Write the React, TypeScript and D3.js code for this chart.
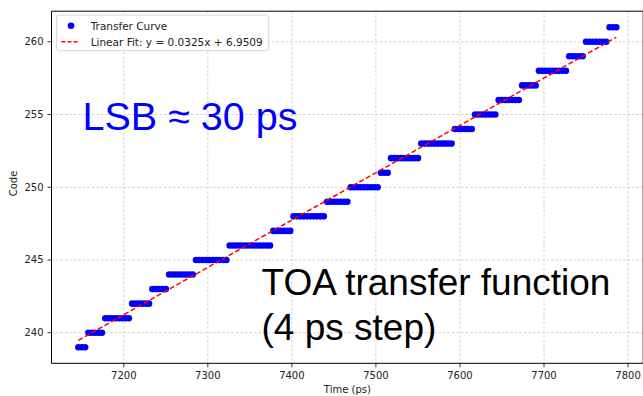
import React from "react";
import * as d3 from "d3";

// Codes and the first/last time (ps) at which each code is output (4 ps sampling step)
const codes = [239, 240, 241, 242, 243, 244, 245, 246, 247, 248, 249, 250, 251, 252, 253, 254, 255, 256, 257, 258, 259, 260, 261];
const segStart = [7146, 7158, 7178, 7210, 7234, 7254, 7286, 7326, 7378, 7402, 7442, 7470, 7506, 7518, 7554, 7594, 7618, 7646, 7674, 7694, 7730, 7750, 7778];
const segEnd = [7154, 7174, 7206, 7230, 7250, 7282, 7322, 7374, 7398, 7438, 7466, 7502, 7514, 7550, 7590, 7614, 7642, 7670, 7690, 7726, 7746, 7774, 7786];
const stepPs = 4;

const fitSlope = 0.03254;
const fitIntercept = 6.9509;
const fitLabel = "Linear Fit: y = 0.0325x + 6.9509";

const xTicks = [7200, 7300, 7400, 7500, 7600, 7700, 7800];
const yTicks = [240, 245, 250, 255, 260];

const W = 643;
const H = 396;

export default function App() {
  const points: { t: number; c: number }[] = [];
  codes.forEach((c, i) => {
    for (let t = segStart[i]; t <= segEnd[i]; t += stepPs) points.push({ t, c });
  });
  const tMin = d3.min(points, (p) => p.t)!;
  const tMax = d3.max(points, (p) => p.t)!;
  const cMin = d3.min(points, (p) => p.c)!;
  const cMax = d3.max(points, (p) => p.c)!;
  const xPad = (tMax - tMin) * 0.05;
  const yPad = (cMax - cMin) * 0.05;

  const left = 51.5, right = 643.2, top = 11.2, bottom = 363.3;
  const x = d3.scaleLinear().domain([tMin - xPad, tMax + xPad]).range([left, right]);
  const y = d3.scaleLinear().domain([cMin - yPad, cMax + yPad]).range([bottom, top]);

  const fitLine = d3
    .line<number>()
    .x((t) => x(t))
    .y((t) => y(fitSlope * t + fitIntercept));

  const tickFont = "DejaVu Sans, sans-serif";
  const bigFont = "Liberation Sans, Arial, sans-serif";

  return (
    <svg
      width={W}
      height={H}
      style={{ position: "absolute", left: 0, top: 0, background: "#fff" }}
    >
      <defs>
        <clipPath id="plotclip">
          <rect x={left} y={top} width={right - left} height={bottom - top} />
        </clipPath>
      </defs>
      <rect x={0} y={0} width={W} height={H} fill="#fff" />
      {/* grid */}
      <g stroke="#c4c4c4" strokeWidth={0.8} strokeDasharray="2.5,2">
        {xTicks.map((t) => (
          <line key={"gx" + t} x1={x(t)} x2={x(t)} y1={top} y2={bottom} />
        ))}
        {yTicks.map((v) => (
          <line key={"gy" + v} x1={left} x2={right} y1={y(v)} y2={y(v)} />
        ))}
      </g>
      {/* data */}
      <g clipPath="url(#plotclip)">
        {points.map((p, i) => (
          <circle key={i} cx={x(p.t)} cy={y(p.c)} r={3.3} fill="#0000ff" />
        ))}
        <path
          d={fitLine([tMin, tMax]) || ""}
          fill="none"
          stroke="#ff0000"
          strokeWidth={1.5}
          strokeDasharray="5,2.5"
        />
      </g>
      {/* spines */}
      <g stroke="#000" strokeWidth={1} fill="none">
        <line x1={left} x2={left} y1={top} y2={bottom} />
        <line x1={left} x2={right} y1={bottom} y2={bottom} />
        <line x1={left} x2={right} y1={top} y2={top} />
        <line x1={right} x2={right} y1={top} y2={bottom} />
      </g>
      {/* x ticks */}
      {xTicks.map((t) => (
        <g key={"xt" + t}>
          <line x1={x(t)} x2={x(t)} y1={bottom} y2={bottom + 4} stroke="#000" strokeWidth={0.8} />
          <text x={x(t)} y={379} textAnchor="middle" fontFamily={tickFont} fontSize={10} fill="#222">
            {t}
          </text>
        </g>
      ))}
      {/* y ticks */}
      {yTicks.map((v) => (
        <g key={"yt" + v}>
          <line x1={left - 4} x2={left} y1={y(v)} y2={y(v)} stroke="#000" strokeWidth={0.8} />
          <text
            x={43.5}
            y={y(v)}
            textAnchor="end"
            dominantBaseline="central"
            fontFamily={tickFont}
            fontSize={10}
            fill="#222"
          >
            {v}
          </text>
        </g>
      ))}
      {/* axis labels */}
      <text x={(left + right) / 2} y={393} textAnchor="middle" fontFamily={tickFont} fontSize={10} fill="#222">
        Time (ps)
      </text>
      <text
        transform={`translate(13.5, 183.5) rotate(-90)`}
        textAnchor="middle"
        dominantBaseline="central"
        fontFamily={tickFont}
        fontSize={10}
        fill="#222"
      >
        Code
      </text>
      {/* legend */}
      <g>
        <rect x={56.7} y={15} width={211.6} height={35.7} rx={2} fill="#fff" fillOpacity={0.85} stroke="#cccccc" strokeWidth={0.8} />
        <circle cx={71} cy={25.7} r={3.3} fill="#0000ff" />
        <line x1={61.5} x2={78.5} y1={41.7} y2={41.7} stroke="#ff0000" strokeWidth={1.5} strokeDasharray="4,2" />
        <text x={90.7} y={25.7} dominantBaseline="central" fontFamily={tickFont} fontSize={10.5} fill="#222">
          Transfer Curve
        </text>
        <text x={90.7} y={41.7} dominantBaseline="central" fontFamily={tickFont} fontSize={10.5} fill="#222">
          {fitLabel}
        </text>
      </g>
      {/* annotations */}
      <text x={82.5} y={130} fontFamily={bigFont} fontSize={39.5} fill="#0000ff">
        LSB ≈ 30 ps
      </text>
      <text fontFamily={bigFont} fontSize={37} fill="#000">
        <tspan x={261.5} y={295}>TOA transfer function</tspan>
        <tspan x={261.5} y={340}>(4 ps step)</tspan>
      </text>
    </svg>
  );
}
